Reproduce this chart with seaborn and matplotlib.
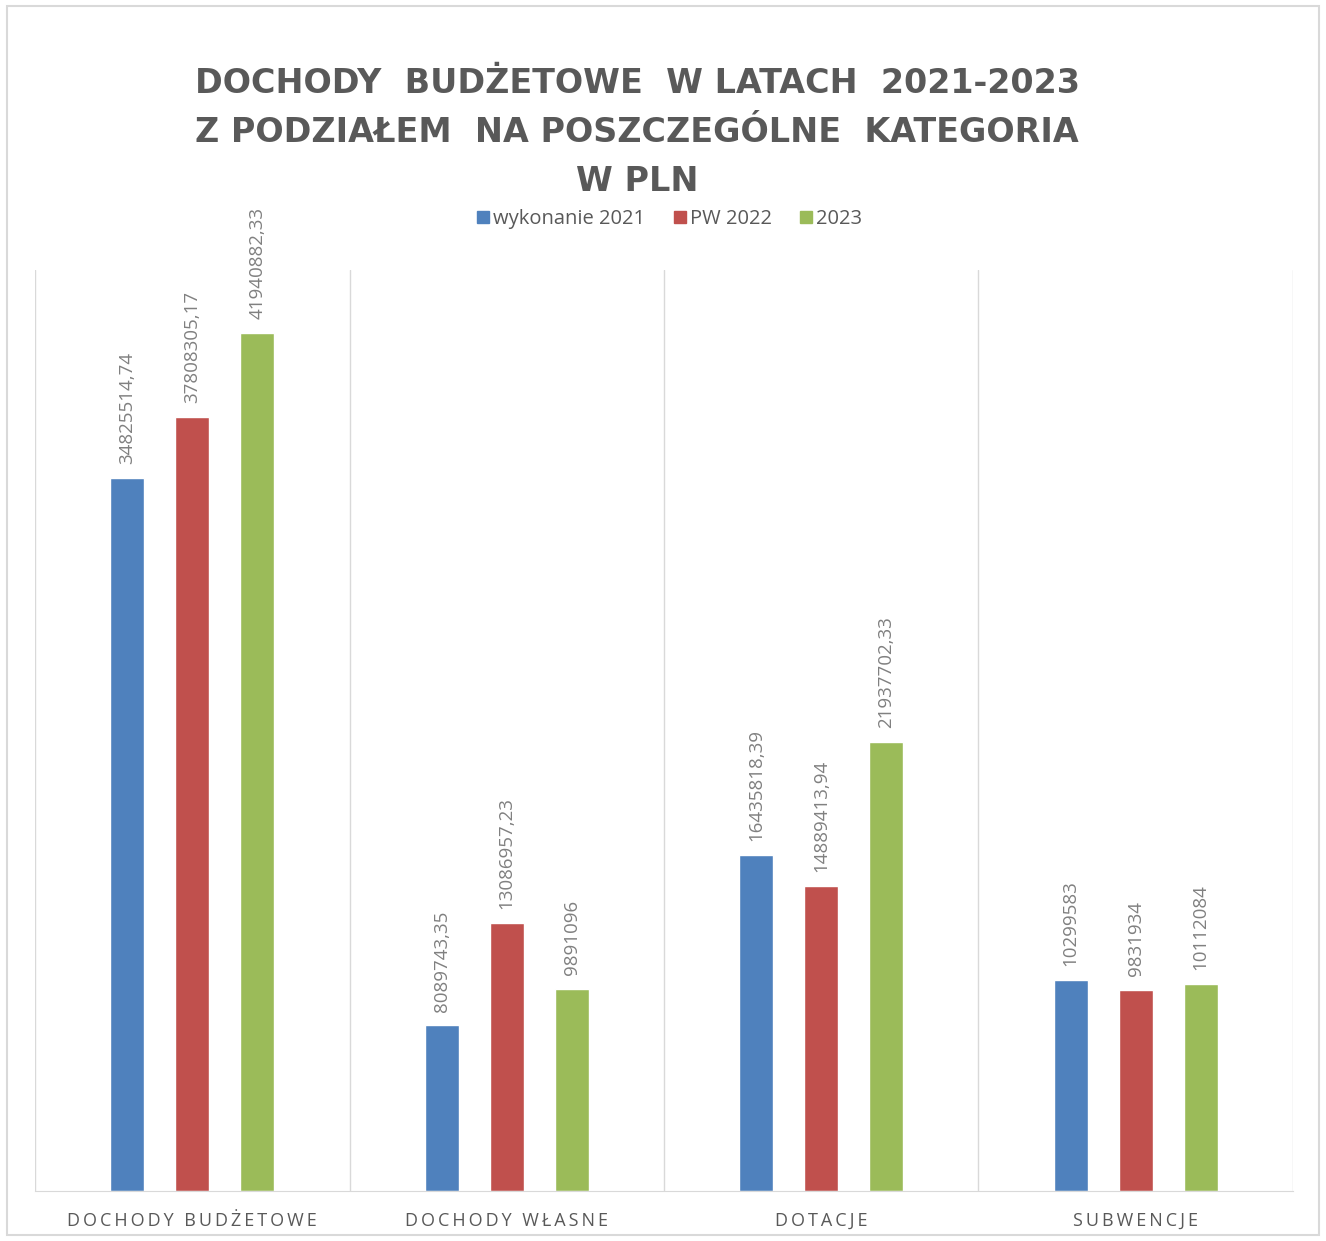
import matplotlib
matplotlib.use("Agg")
import matplotlib.pyplot as plt
from matplotlib.patches import Rectangle
from matplotlib.lines import Line2D
import seaborn as sns
import pandas as pd

# Data
categories = ["DOCHODY BUDŻETOWE", "DOCHODY WŁASNE", "DOTACJE", "SUBWENCJE"]
series = ["wykonanie 2021", "PW 2022", "2023"]
wykonanie_2021 = [34825514.74, 8089743.35, 16435818.39, 10299583]
pw_2022 = [37808305.17, 13086957.23, 14889413.94, 9831934]
rok_2023 = [41940882.33, 9891096, 21937702.33, 10112084]
colors = ["#4F81BD", "#C0504D", "#9BBB59"]
title_lines = ["DOCHODY  BUDŻETOWE  W LATACH  2021-2023",
               "Z PODZIAŁEM  NA POSZCZEGÓLNE  KATEGORIA",
               "W PLN"]

rows = []
for name, vals in zip(series, [wykonanie_2021, pw_2022, rok_2023]):
    for cat, v in zip(categories, vals):
        rows.append({"kategoria": cat, "seria": name, "wartosc": v})
df = pd.DataFrame(rows)


def fmt(v):
    if float(v).is_integer():
        return str(int(v))
    return f"{v:.2f}".replace(".", ",")


def spaced(s, sep="\u2009"):
    # fake letter spacing
    return sep.join(s)


sns.set_style("white")
plt.rcParams["font.family"] = ["Open Sans", "DejaVu Sans"]

fig = plt.figure(figsize=(13.26, 12.41), dpi=100)
ax = fig.add_axes([0.0264, 0.0403, 0.9487, 0.7422])

sns.barplot(data=df, x="kategoria", y="wartosc", hue="seria", palette=colors,
            width=0.62, gap=0.48, ax=ax, legend=False, saturation=1)

for cont, vals in zip(ax.containers, [wykonanie_2021, pw_2022, rok_2023]):
    ax.bar_label(cont, labels=[fmt(v) for v in vals], rotation=90, padding=10,
                 fontsize=13.5, color="#808080")

ax.set_ylim(0, 45000000)
ax.set_xlim(-0.5, 3.5)
ax.set_yticks([])
ax.set_xlabel("")
ax.set_ylabel("")
ax.set_xticks(range(len(categories)))
ax.set_xticklabels([spaced(c) for c in categories], fontsize=13, color="#595959")
ax.tick_params(axis="x", length=0, pad=15)

for s in ["top", "right", "left"]:
    ax.spines[s].set_visible(False)
ax.spines["bottom"].set_color("#d9d9d9")
for xv in [-0.5, 0.5, 1.5, 2.5, 3.5]:
    ax.axvline(xv, color="#d9d9d9", lw=1, zorder=0)

# title
fig.text(0.4804, 0.946, "\n".join(title_lines),
         ha="center", va="top", fontsize=24, fontweight="bold", color="#595959",
         linespacing=1.62, family="DejaVu Sans")

# legend
handles = [Line2D([], [], marker="s", ls="", color=c, markersize=8) for c in colors]
fig.legend(handles, series, loc="center", bbox_to_anchor=(0.502, 0.8235), ncol=3,
           frameon=False, fontsize=14.5, labelcolor="#595959", handletextpad=-0.2,
           columnspacing=1.0, handlelength=1.4)

# outer frame
fig.patches.append(Rectangle((0.005, 0.005), 0.99, 0.99, transform=fig.transFigure,
                             fill=False, edgecolor="#d9d9d9", lw=1.5))

fig.savefig("out.png", dpi=100)
plt.close(fig)
